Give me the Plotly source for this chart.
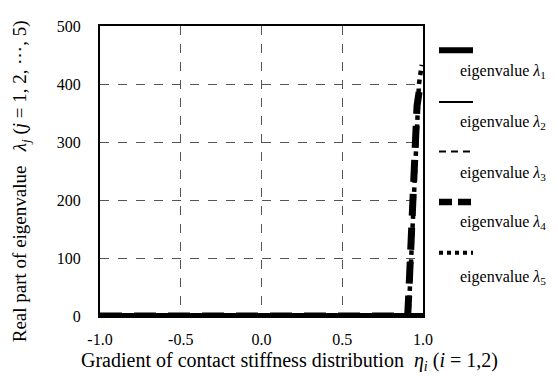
import plotly.graph_objects as go

# ---------------- data ----------------
eta_flat = [-1.0, -0.5, 0.0, 0.5, 0.9, 1.0]
lam1 = [0, 0, 0, 0, 0, 0]
lam2 = [0, 0, 0, 0, 0, 0]
lam3 = [0, 0, 0, 0, 0, 0]

eta4 = [-1.0, -0.5, 0.0, 0.5, 0.905, 0.913, 0.932, 0.950, 0.963, 0.981]
lam4 = [0, 0, 0, 0, 0, 44, 195, 295, 362, 396]

eta5 = [-1.0, -0.5, 0.0, 0.5, 0.905, 0.913, 0.926, 0.940, 0.955, 0.975, 0.992]
lam5 = [0, 0, 0, 0, 0, 13, 100, 200, 300, 400, 433]

legend_names = ["eigenvalue <i>λ</i><sub>1</sub>", "eigenvalue <i>λ</i><sub>2</sub>",
                "eigenvalue <i>λ</i><sub>3</sub>", "eigenvalue <i>λ</i><sub>4</sub>",
                "eigenvalue <i>λ</i><sub>5</sub>"]

x_ticks = [-1.0, -0.5, 0.0, 0.5, 1.0]
x_ticklabels = ["-1.0", "-0.5", "0.0", "0.5", "1.0"]
y_ticks = [0, 100, 200, 300, 400, 500]

# ---------------- styles ----------------
FONT = "Liberation Serif"
styles = [
    dict(width=6, dash="solid"),
    dict(width=2, dash="solid"),
    dict(width=2, dash="6px,4px"),
    dict(width=7, dash="22px,12px"),
    dict(width=4.5, dash="dot"),
]
legend_styles = [
    dict(width=6, dash="solid"),
    dict(width=2, dash="solid"),
    dict(width=2, dash="7px,5px"),
    dict(width=6.5, dash="13px,6px"),
    dict(width=4, dash="dot"),
]

fig = go.Figure()
series = [(eta_flat, lam1), (eta_flat, lam2), (eta_flat, lam3), (eta4, lam4), (eta5, lam5)]
for (xs, ys), st, nm in zip(series, styles, legend_names):
    fig.add_trace(go.Scatter(x=xs, y=ys, mode="lines", name=nm,
                             line=dict(color="black", width=st["width"], dash=st["dash"]),
                             showlegend=False))

# custom legend: sample line above its label
sample_y = [0.916, 0.738, 0.567, 0.393, 0.218]
label_y = [0.842, 0.668, 0.490, 0.322, 0.134]
shapes = []
annotations = []
for sy, ly, st, nm in zip(sample_y, label_y, legend_styles, legend_names):
    shapes.append(dict(type="line", xref="paper", yref="paper",
                       x0=1.0495, x1=1.1548, y0=sy, y1=sy,
                       line=dict(color="black", width=st["width"], dash=st["dash"])))
    annotations.append(dict(xref="paper", yref="paper", x=1.108, y=ly,
                            xanchor="left", yanchor="middle", showarrow=False,
                            text=nm, font=dict(family=FONT, size=16, color="black")))

# axis titles
annotations.append(dict(xref="paper", yref="paper", x=0.588, y=-0.158,
                        xanchor="center", yanchor="middle", showarrow=False,
                        text="Gradient of contact stiffness distribution\u00a0\u00a0<i>η</i><sub><i>i</i></sub> (<i>i</i> = 1,2)",
                        font=dict(family=FONT, size=20, color="black")))
annotations.append(dict(xref="paper", yref="paper", x=-0.246, y=0.463,
                        xanchor="center", yanchor="middle", showarrow=False, textangle=-90,
                        text="Real part of eigenvalue\u00a0\u00a0\u00a0<i>λ</i><sub><i>j</i></sub>\u00a0(<i>j</i> = 1, 2, ⋯, 5)",
                        font=dict(family=FONT, size=19, color="black")))

# the page adds an 8px body margin, so the figure is drawn 8px right/down
fig.update_layout(
    width=550, height=368,
    margin=dict(l=92, r=135, t=10, b=60),
    paper_bgcolor="white", plot_bgcolor="white",
    font=dict(family=FONT, size=16, color="black"),
    shapes=shapes, annotations=annotations,
    xaxis=dict(range=[-1.0, 1.0], tickvals=x_ticks, ticktext=x_ticklabels,
               tickfont=dict(family=FONT, size=16, color="black"),
               showgrid=True, gridcolor="#555555", gridwidth=1, griddash="dash",
               zeroline=False, showline=True, linecolor="black", linewidth=2, mirror=True,
               ticks="", ticklabelstandoff=8),
    yaxis=dict(range=[0, 500], tickvals=y_ticks,
               tickfont=dict(family=FONT, size=16, color="black"),
               showgrid=True, gridcolor="#555555", gridwidth=1, griddash="dash",
               zeroline=False, showline=True, linecolor="black", linewidth=2, mirror=True,
               ticks="", ticklabelstandoff=14),
)

fig.write_html("out.html")
